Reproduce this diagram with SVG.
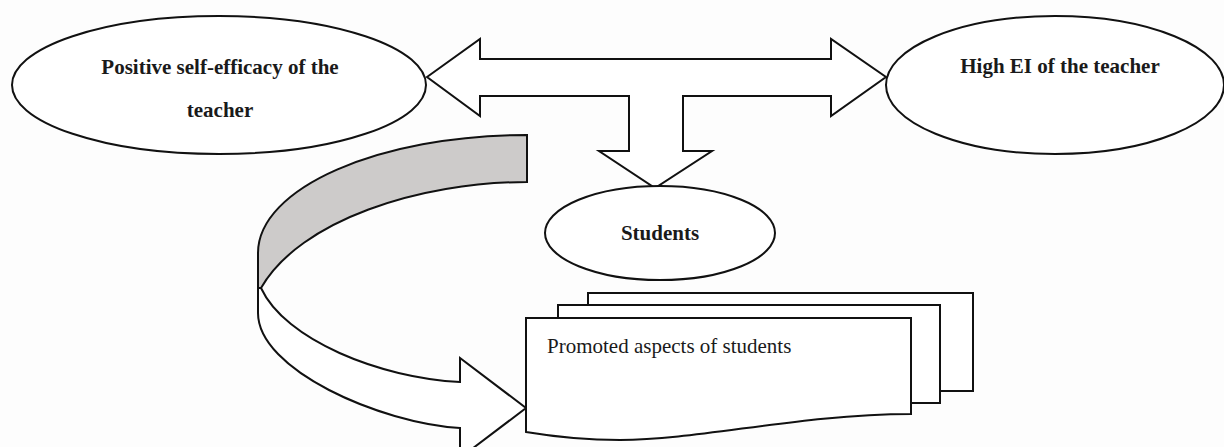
<svg xmlns="http://www.w3.org/2000/svg" width="1224" height="447" viewBox="0 0 1224 447">
<style>
.s{fill:#fff;stroke:#111;stroke-width:2;stroke-linejoin:miter}
.g{fill:#cdcbca;stroke:#111;stroke-width:2}
.b{font-family:"Liberation Serif",serif;font-weight:bold;font-size:21px;fill:#1a1a1a;text-anchor:middle}
.r{font-family:"Liberation Serif",serif;font-size:21px;fill:#1a1a1a}
</style>
<rect width="1224" height="447" fill="#fdfdfd"/>
<g id="connectors">
<path class="s" d="M427,77 L480,39 L480,59 L831,59 L831,39 L886,77 L831,116 L831,96 L683,96 L683,151 L712,151 L655,188 L599,151 L629,151 L629,96 L480,96 L480,116 Z"/>
<path class="g" d="M527,135 L527,182 C420,182 300,220 261,288 L258,288 L258,253 C258,188 379,135 527,135 Z"/>
<path class="s" d="M258,288 L261,288 C285,340 380,378 460,382 L460,358 L526,408 L460,458 L460,428 C380,423 258,370 258,313 Z"/>
</g>
<g id="node-self-efficacy">
<ellipse class="s" cx="219" cy="85" rx="207" ry="69"/>
<text class="b" x="220" y="74">Positive self-efficacy of the</text>
<text class="b" x="220" y="117">teacher</text>
</g>
<g id="node-high-ei">
<ellipse class="s" cx="1055" cy="85" rx="169" ry="69"/>
<text class="b" x="1060" y="73">High EI of the teacher</text>
</g>
<g id="node-students">
<ellipse class="s" cx="660" cy="233" rx="115" ry="47"/>
<text class="b" x="660" y="240">Students</text>
</g>
<g id="node-promoted">
<rect class="s" x="588" y="293" width="385" height="98"/>
<rect class="s" x="558" y="305" width="382" height="98"/>
<path class="s" d="M526,318 L911,318 L911,414 C800,414 700,440 620,440 C580,440 550,436 526,432 Z"/>
<text class="r" x="547" y="353">Promoted aspects of students</text>
</g>
</svg>
